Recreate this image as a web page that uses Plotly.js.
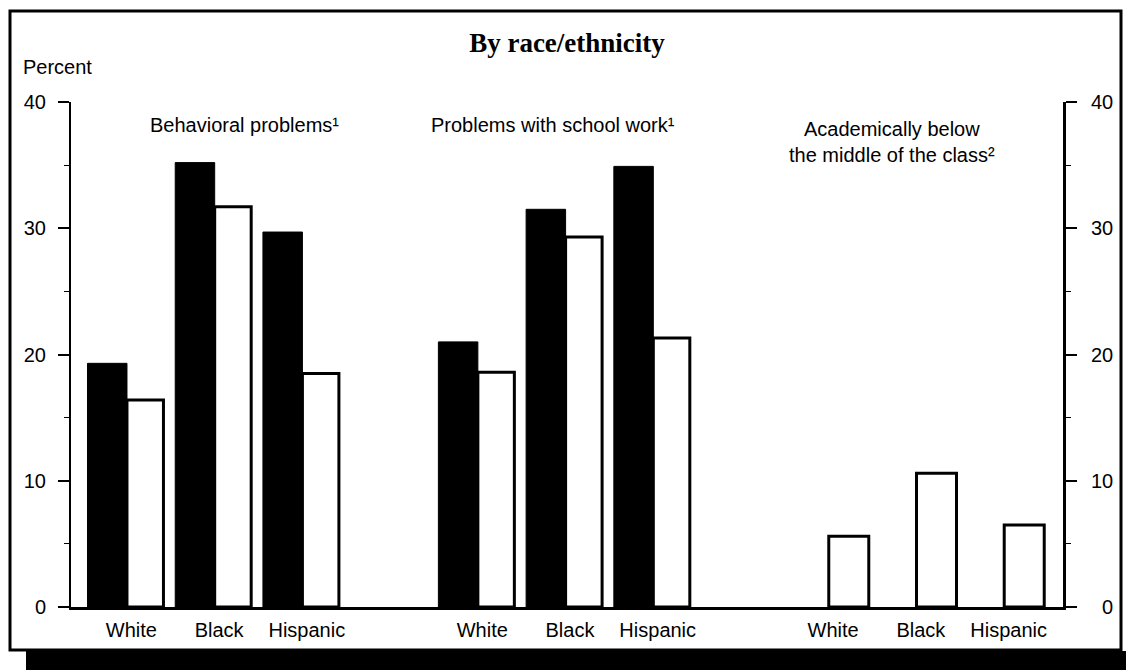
<!DOCTYPE html>
<html>
<head>
<meta charset="utf-8">
<script src="https://cdn.plot.ly/plotly-3.0.1.min.js"></script>
<style>
  html, body { margin: 0; padding: 0; background: #ffffff; }
  #chart { width: 1126px; height: 670px; }
</style>
</head>
<body>
<div id="chart"></div>
<script>
// ---- Data ----
const categories = ['White', 'Black', 'Hispanic'];
const groupTitles = ['Behavioral problems¹', 'Problems with school work¹', 'Academically below<br>the middle of the class²'];
// dark (solid black) series, per group then per category; no dark bars in the third group
const darkValues = [19.3, 35.2, 29.7, 21.0, 31.5, 34.9, null, null, null];
// light (outlined) series
const lightValues = [16.4, 31.7, 18.5, 18.6, 29.3, 21.3, 5.6, 10.6, 6.5];
const yTickValues = [0, 10, 20, 30, 40];
const yTickLabels = ['0', '10', '20', '30', '40'];
const chartTitle = 'By race/ethnicity';
const yAxisLabel = 'Percent';

// ---- Layout geometry ----
const W = 1126, H = 670;
const M = { l: 71, r: 63, t: 102, b: 63 };
const pw = W - M.l - M.r, ph = H - M.t - M.b;
const px = v => (v - M.l) / pw;          // pixel x -> paper x
const py = v => (H - M.b - v) / ph;      // pixel y -> paper y

const xs = [];
const labels = [];
groupTitles.forEach((_, g) => categories.forEach((c, i) => { xs.push(4 * g + i); labels.push(c); }));

const sans = 'Liberation Sans, Arial, Helvetica, sans-serif';
const serif = 'Liberation Serif, Times New Roman, serif';
const FS = 20;

const darkTrace = {
  type: 'bar', x: xs, y: darkValues,
  offset: -0.45, width: 0.45,
  marker: { color: '#000000', line: { color: '#000000', width: 1 } },
  hoverinfo: 'skip'
};
const lightTrace = {
  type: 'bar', x: xs, y: lightValues,
  offset: 0, width: xs.map((_, k) => (k >= 6 ? 0.456 : 0.416)),
  marker: { color: '#ffffff', line: { color: '#000000', width: 3 } },
  hoverinfo: 'skip'
};
// carrier so that the right-hand percent axis is drawn
const rightAxisCarrier = {
  type: 'scatter', x: [xs[0]], y: [null], yaxis: 'y2', mode: 'markers',
  marker: { opacity: 0 }, hoverinfo: 'skip', showlegend: false
};

const yCommon = {
  range: [0, 40],
  tickmode: 'array', tickvals: yTickValues,
  showline: true, linecolor: '#000000',
  ticks: 'outside', ticklen: 11, tickwidth: 2, tickcolor: '#000000',
  minor: { ticks: 'outside', ticklen: 5, tickwidth: 1, tickcolor: '#000000', tickmode: 'linear', tick0: 0, dtick: 5 },
  showgrid: false, zeroline: false,
  tickfont: { family: sans, size: FS, color: '#000000' },
  fixedrange: true
};

const layout = {
  width: W, height: H,
  margin: { l: M.l, r: M.r, t: M.t, b: M.b, pad: 0 },
  paper_bgcolor: '#ffffff', plot_bgcolor: '#ffffff',
  showlegend: false, barmode: 'overlay',
  title: {
    text: '<b>' + chartTitle + '</b>',
    font: { family: serif, size: 27, color: '#000000' },
    xref: 'container', yref: 'container',
    x: 567 / W, y: 1 - 43 / H, xanchor: 'center', yanchor: 'middle'
  },
  xaxis: {
    range: [-0.638, 10.67],
    showline: true, linecolor: '#000000', linewidth: 3,
    ticks: '', showgrid: false, zeroline: false,
    tickmode: 'array', tickvals: xs.map(v => v + 0.05), ticktext: labels,
    tickfont: { family: sans, size: FS, color: '#000000' },
    ticklabelstandoff: 3,
    fixedrange: true
  },
  yaxis: Object.assign({}, yCommon, {
    linewidth: 2, ticktext: yTickLabels, ticklabelstandoff: 8
  }),
  yaxis2: Object.assign({}, yCommon, {
    overlaying: 'y', side: 'right', anchor: 'x',
    linewidth: 3,
    ticktext: yTickLabels.map(t => (t.length < 2 ? '\u2007' + t : t)),
    ticklabelstandoff: 10
  }),
  annotations: [
    { text: yAxisLabel, xref: 'paper', yref: 'paper', x: px(21), y: py(67), xanchor: 'left', yanchor: 'middle',
      showarrow: false, font: { family: sans, size: FS, color: '#000000' } },
    { text: groupTitles[0], xref: 'paper', yref: 'paper', x: px(244), y: py(125), xanchor: 'center', yanchor: 'middle',
      showarrow: false, font: { family: sans, size: FS, color: '#000000' } },
    { text: groupTitles[1], xref: 'paper', yref: 'paper', x: px(553), y: py(125), xanchor: 'center', yanchor: 'middle',
      showarrow: false, font: { family: sans, size: FS, color: '#000000' } },
    { text: groupTitles[2], xref: 'paper', yref: 'paper', x: px(892), y: py(142), xanchor: 'center', yanchor: 'middle',
      showarrow: false, font: { family: sans, size: FS, color: '#000000' } }
  ],
  shapes: [
    { type: 'rect', xref: 'paper', yref: 'paper', x0: px(10), x1: px(1121), y0: py(11), y1: py(650),
      line: { color: '#000000', width: 3 }, fillcolor: 'rgba(0,0,0,0)', layer: 'above' },
    { type: 'rect', xref: 'paper', yref: 'paper', x0: px(26), x1: px(1126), y0: py(651), y1: py(670),
      line: { width: 0 }, fillcolor: '#000000', layer: 'above' }
  ]
};

Plotly.newPlot('chart', [darkTrace, lightTrace, rightAxisCarrier], layout, { staticPlot: true, displayModeBar: false });
</script>
</body>
</html>
